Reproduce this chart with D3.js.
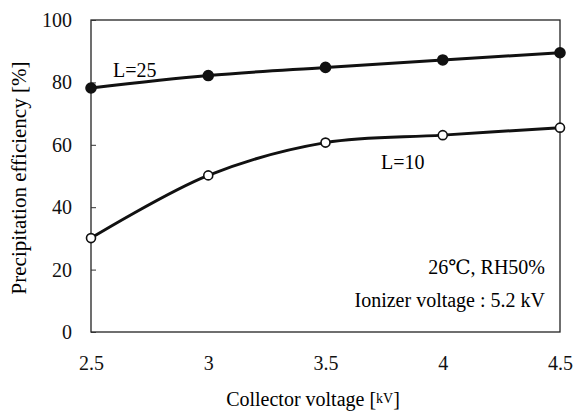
<!DOCTYPE html>
<html>
<head>
<meta charset="utf-8">
<script src="https://cdn.jsdelivr.net/npm/d3@7"></script>
<style>
  body { margin: 0; background: #fff; }
</style>
</head>
<body>
<div class="container"></div>
<script>
const voltages = [2.5, 3, 3.5, 4, 4.5];
const eff25 = [78.2, 82.2, 84.8, 87.2, 89.5];
const eff10 = [30.1, 50.2, 60.7, 63.1, 65.5];
const yTicks = [0, 20, 40, 60, 80, 100];
const xTicks = [2.5, 3, 3.5, 4, 4.5];

const FONT = "'Liberation Serif', 'DejaVu Serif', serif";
const width = 576, height = 415;
const margin = {top: 20, right: 15, bottom: 83, left: 91};

const svg = d3.select('.container')
        .append('svg')
        .attr('width', width)
        .attr('height', height)
        .attr('font-family', FONT);

const x = d3.scaleLinear().domain([2.5, 4.5]).range([margin.left, width - margin.right - 1]);
const y = d3.scaleLinear().domain([0, 100]).range([height - margin.bottom, margin.top]);

// frame
svg.append('rect')
    .attr('x', x(2.5))
    .attr('y', y(100))
    .attr('width', x(4.5) - x(2.5))
    .attr('height', y(0) - y(100))
    .attr('fill', 'none')
    .attr('stroke', '#222')
    .attr('stroke-width', 1.3);

// y axis, small inward ticks
const yAxis = svg.append('g')
    .attr('transform', `translate(${x(2.5)},0)`)
    .call(d3.axisLeft(y).tickValues(yTicks).tickSize(-5).tickPadding(19).tickFormat(d3.format('d')));
yAxis.attr('font-family', FONT).attr('font-size', 20);
yAxis.select('.domain').remove();
yAxis.selectAll('line').attr('stroke', '#333');
yAxis.selectAll('text').attr('fill', '#111');

// x axis, labels only
const xAxis = svg.append('g')
    .attr('transform', `translate(0,${y(0)})`)
    .call(d3.axisBottom(x).tickValues(xTicks).tickSize(0).tickPadding(24).tickFormat(d => d));
xAxis.attr('font-family', FONT).attr('font-size', 20);
xAxis.select('.domain').remove();
xAxis.selectAll('text').attr('fill', '#111');

const line = d3.line()
    .x(d => x(d[0]))
    .y(d => y(d[1]))
    .curve(d3.curveCatmullRom.alpha(0.5));

const series = [
    {vals: eff25, fill: '#111', r: 5},
    {vals: eff10, fill: '#fff', r: 4.5}
];

series.forEach(s => {
    const pts = voltages.map((v, i) => [v, s.vals[i]]);
    svg.append('path')
        .datum(pts)
        .attr('d', line)
        .attr('fill', 'none')
        .attr('stroke', '#111')
        .attr('stroke-width', 3);
    svg.append('g')
        .selectAll('circle')
        .data(pts)
        .enter()
        .append('circle')
        .attr('cx', d => x(d[0]))
        .attr('cy', d => y(d[1]))
        .attr('r', s.r)
        .attr('fill', s.fill)
        .attr('stroke', '#111')
        .attr('stroke-width', 1.6);
});

// annotations
svg.append('text').attr('x', 113).attr('y', 77).attr('font-size', 20).text('L=25');
svg.append('text').attr('x', 381).attr('y', 169).attr('font-size', 20).text('L=10');
svg.append('text').attr('x', 545).attr('y', 274).attr('font-size', 20)
    .attr('text-anchor', 'end').text('26\u2103, RH50%');
svg.append('text').attr('x', 545).attr('y', 307).attr('font-size', 20)
    .attr('text-anchor', 'end').text('Ionizer voltage : 5.2 kV');

// axis titles
const xTitle = svg.append('text')
    .attr('x', 313)
    .attr('y', 406)
    .attr('font-size', 20)
    .attr('text-anchor', 'middle');
xTitle.append('tspan').text('Collector voltage [');
xTitle.append('tspan').attr('font-size', 14).attr('dy', -3).text('kV');
xTitle.append('tspan').attr('dy', 3).text(']');

svg.append('text')
    .attr('transform', 'translate(26,178) rotate(-90)')
    .attr('font-size', 21)
    .attr('text-anchor', 'middle')
    .text('Precipitation efficiency [%]');
</script>
</body>
</html>
